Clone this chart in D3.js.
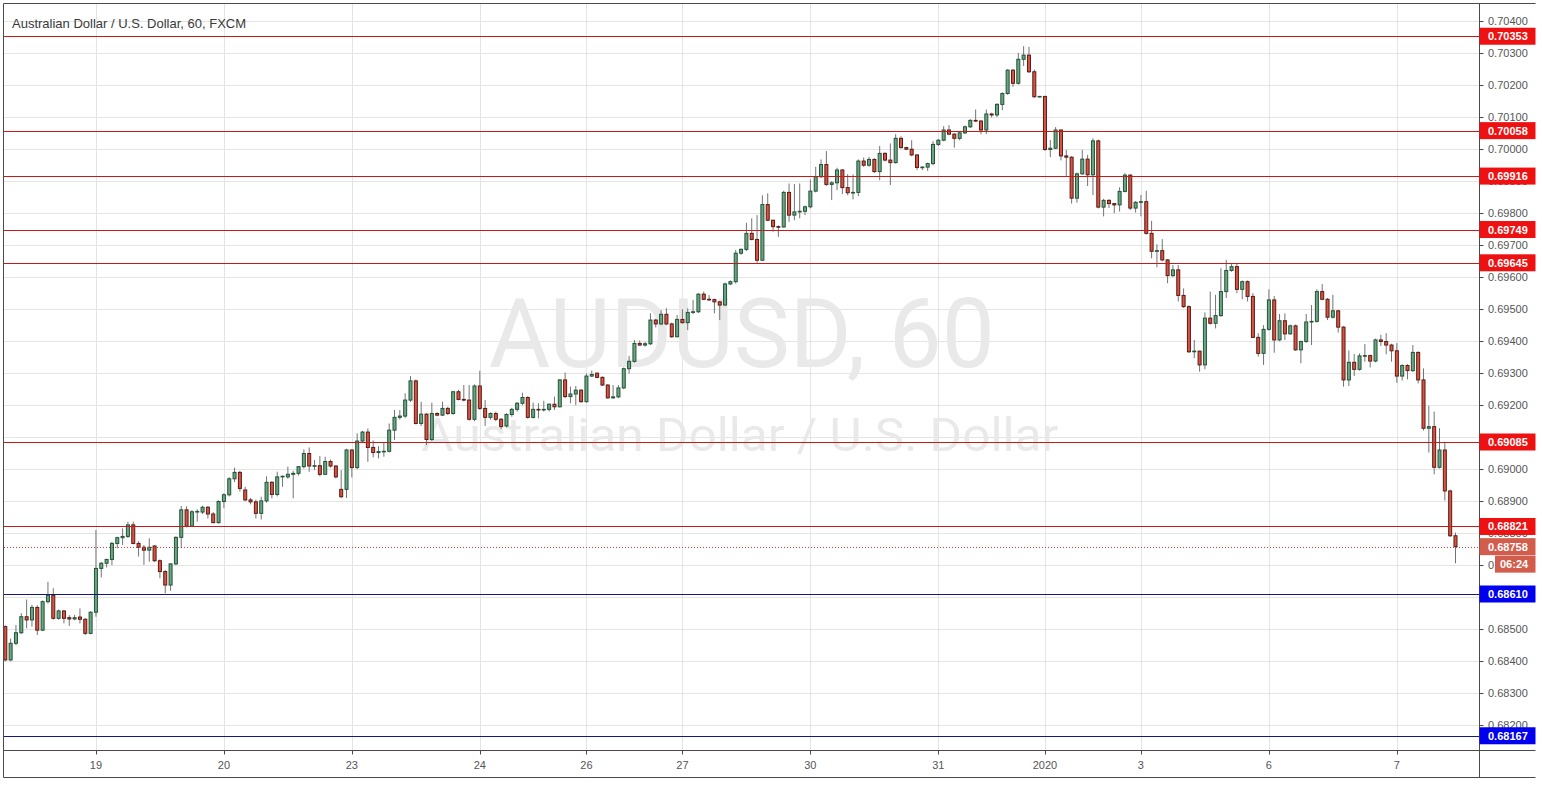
<!DOCTYPE html>
<html><head><meta charset="utf-8">
<script src="https://cdn.jsdelivr.net/npm/d3@7"></script>
<style>html,body{margin:0;padding:0;background:#fff;} svg{display:block;}</style>
</head><body>
<svg id="chart" width="1542" height="785"></svg>
<script>
// ---- DATA (AUD/USD, 60 min, FXCM) ----
const opens = [
.68508,.68404,.68456,.68489,.68539,.68529,.68568,.68497,.68586,.68606,
.68534,.68557,.68536,.68532,.68538,.68531,.68487,.68553,.68690,.68706,
.68718,.68768,.68786,.68790,.68826,.68768,.68756,.68747,.68760,.68714,
.68680,.68638,.68704,.68787,.68873,.68822,.68867,.68866,.68881,.68860,
.68833,.68899,.68920,.68970,.68990,.68935,.68904,.68898,.68862,.68901,
.68959,.68921,.68976,.68976,.68984,.68987,.69008,.69049,.69010,.69011,
.68984,.69024,.69010,.68937,.68937,.69060,.69005,.69088,.69116,.69068,
.69052,.69055,.69056,.69122,.69162,.69166,.69216,.69276,.69143,.69172,
.69093,.69174,.69169,.69190,.69174,.69242,.69218,.69216,.69156,.69260,
.69190,.69162,.69174,.69156,.69135,.69171,.69187,.69206,.69224,.69162,
.69187,.69186,.69187,.69203,.69195,.69279,.69227,.69235,.69247,.69211,
.69291,.69300,.69287,.69263,.69223,.69226,.69254,.69314,.69337,.69393,
.69388,.69392,.69466,.69454,.69484,.69454,.69414,.69468,.69458,.69490,
.69492,.69547,.69531,.69530,.69523,.69513,.69579,.69586,.69675,.69687,
.69737,.69718,.69653,.69827,.69778,.69758,.69757,.69865,.69794,.69804,
.69806,.69820,.69869,.69914,.69952,.69890,.69895,.69935,.69880,.69864,
.69865,.69963,.69950,.69968,.69930,.69987,.69966,.69958,.70034,.70005,
.70000,.69982,.69943,.69944,.69955,.70015,.70028,.70060,.70047,.70034,
.70051,.70070,.70090,.70088,.70060,.70110,.70107,.70140,.70174,.70247,
.70206,.70281,.70294,.70242,.70164,.70165,.69999,.70003,.70060,.69979,
.69975,.69847,.69923,.69969,.69920,.70026,.69819,.69840,.69830,.69826,
.69868,.69919,.69816,.69834,.69836,.69737,.69681,.69683,.69654,.69605,
.69623,.69543,.69508,.69367,.69369,.69326,.69472,.69456,.69480,.69555,
.69621,.69633,.69562,.69586,.69540,.69412,.69362,.69437,.69529,.69404,
.69464,.69423,.69448,.69373,.69399,.69460,.69462,.69555,.69531,.69475,
.69495,.69444,.69279,.69334,.69312,.69354,.69355,.69338,.69404,.69399,
.69388,.69370,.69291,.69324,.69308,.69365,.69279,.69128,.69133,.69006,
.69060,.68932,.68792];
const highs = [
.68512,.68471,.68513,.68550,.68593,.68576,.68575,.68590,.68648,.68628,
.68562,.68560,.68544,.68545,.68565,.68535,.68556,.68810,.68710,.68720,
.68773,.68789,.68815,.68836,.68836,.68775,.68763,.68784,.68763,.68718,
.68685,.68706,.68790,.68885,.68884,.68872,.68875,.68886,.68885,.68866,
.68903,.68925,.68975,.69005,.68995,.68945,.68910,.68905,.68914,.68978,
.68963,.68992,.68980,.69008,.68995,.69010,.69062,.69068,.69029,.69041,
.69039,.69030,.69012,.68997,.69064,.69062,.69112,.69120,.69127,.69090,
.69072,.69083,.69143,.69185,.69185,.69237,.69291,.69280,.69211,.69175,
.69208,.69178,.69211,.69195,.69245,.69248,.69263,.69263,.69265,.69308,
.69216,.69178,.69180,.69160,.69175,.69192,.69210,.69239,.69228,.69208,
.69206,.69214,.69206,.69227,.69282,.69302,.69258,.69260,.69250,.69299,
.69308,.69302,.69290,.69266,.69263,.69263,.69318,.69354,.69404,.69402,
.69398,.69487,.69470,.69497,.69503,.69458,.69482,.69500,.69503,.69529,
.69550,.69555,.69544,.69533,.69526,.69583,.69590,.69685,.69690,.69770,
.69784,.69794,.69856,.69862,.69780,.69762,.69870,.69893,.69891,.69893,
.69824,.69905,.69945,.69968,.69994,.69900,.69942,.69938,.69922,.69921,
.69968,.69974,.69976,.69972,.70010,.69990,.70018,.70047,.70040,.70008,
.70028,.69985,.69947,.69958,.70025,.70032,.70072,.70075,.70050,.70055,
.70074,.70094,.70124,.70091,.70124,.70114,.70144,.70178,.70250,.70250,
.70301,.70322,.70320,.70249,.70166,.70166,.70029,.70069,.70062,.69998,
.69978,.69927,.69998,.69982,.70034,.70030,.69845,.69844,.69832,.69881,
.69925,.69922,.69838,.69857,.69870,.69776,.69703,.69719,.69657,.69638,
.69638,.69565,.69512,.69404,.69370,.69490,.69555,.69545,.69628,.69654,
.69644,.69644,.69590,.69590,.69550,.69425,.69450,.69562,.69541,.69485,
.69487,.69452,.69452,.69402,.69485,.69513,.69562,.69579,.69535,.69545,
.69498,.69447,.69371,.69360,.69362,.69391,.69358,.69408,.69420,.69425,
.69392,.69394,.69328,.69328,.69388,.69368,.69315,.69198,.69180,.69128,
.69086,.68936,.68802];
const lows = [
.68400,.68400,.68450,.68485,.68503,.68508,.68482,.68494,.68580,.68530,
.68530,.68518,.68510,.68528,.68518,.68482,.68484,.68539,.68662,.68693,
.68700,.68753,.68763,.68785,.68765,.68727,.68701,.68711,.68710,.68659,
.68612,.68620,.68700,.68753,.68818,.68820,.68836,.68860,.68846,.68831,
.68830,.68878,.68915,.68960,.68930,.68900,.68890,.68846,.68843,.68895,
.68909,.68915,.68945,.68970,.68909,.68980,.69002,.68992,.68997,.68978,
.68982,.69005,.68971,.68910,.68910,.68974,.69000,.69085,.69023,.69037,
.69034,.69039,.69052,.69091,.69155,.69160,.69210,.69140,.69135,.69075,
.69088,.69165,.69166,.69169,.69170,.69215,.69212,.69152,.69150,.69185,
.69135,.69155,.69150,.69125,.69130,.69164,.69180,.69200,.69158,.69158,
.69159,.69180,.69180,.69185,.69193,.69222,.69206,.69200,.69208,.69208,
.69288,.69284,.69260,.69220,.69220,.69222,.69250,.69299,.69333,.69385,
.69383,.69388,.69443,.69450,.69450,.69410,.69412,.69455,.69435,.69485,
.69488,.69528,.69525,.69487,.69466,.69510,.69575,.69580,.69670,.69682,
.69715,.69645,.69651,.69775,.69742,.69726,.69755,.69773,.69778,.69784,
.69794,.69815,.69865,.69910,.69885,.69841,.69872,.69860,.69856,.69843,
.69853,.69945,.69945,.69926,.69903,.69962,.69888,.69955,.70002,.69997,
.69978,.69935,.69935,.69932,.69950,.70010,.70025,.70044,.70005,.70028,
.70047,.70066,.70085,.70047,.70047,.70099,.70100,.70122,.70170,.70195,
.70202,.70260,.70238,.70160,.70162,.69995,.69975,.70000,.69965,.69915,
.69830,.69833,.69920,.69885,.69857,.69815,.69790,.69816,.69800,.69805,
.69865,.69810,.69802,.69790,.69733,.69659,.69631,.69650,.69581,.69600,
.69524,.69504,.69363,.69347,.69305,.69312,.69452,.69440,.69476,.69535,
.69617,.69550,.69531,.69524,.69410,.69352,.69326,.69433,.69364,.69400,
.69404,.69420,.69370,.69331,.69395,.69388,.69458,.69528,.69466,.69471,
.69427,.69258,.69260,.69291,.69308,.69336,.69318,.69334,.69385,.69359,
.69336,.69270,.69277,.69281,.69304,.69268,.69121,.69052,.68984,.69002,
.68902,.68788,.68706];
const closes = [
.68404,.68456,.68489,.68539,.68529,.68568,.68497,.68586,.68606,.68534,
.68557,.68534,.68532,.68536,.68531,.68487,.68553,.68690,.68706,.68718,
.68768,.68786,.68790,.68826,.68768,.68756,.68747,.68756,.68714,.68680,
.68638,.68704,.68787,.68873,.68822,.68867,.68868,.68881,.68860,.68833,
.68899,.68920,.68970,.68990,.68940,.68904,.68898,.68862,.68901,.68959,
.68921,.68976,.68978,.68984,.68987,.69008,.69049,.69010,.69011,.68984,
.69024,.69010,.68976,.68914,.69060,.69005,.69088,.69116,.69068,.69052,
.69055,.69056,.69122,.69162,.69166,.69216,.69276,.69143,.69172,.69093,
.69174,.69169,.69190,.69174,.69242,.69218,.69216,.69156,.69260,.69190,
.69162,.69174,.69156,.69133,.69171,.69187,.69206,.69224,.69162,.69187,
.69186,.69187,.69203,.69195,.69279,.69227,.69235,.69247,.69211,.69291,
.69296,.69287,.69263,.69223,.69226,.69254,.69314,.69337,.69393,.69388,
.69392,.69466,.69454,.69484,.69454,.69414,.69468,.69458,.69490,.69492,
.69547,.69531,.69530,.69523,.69513,.69579,.69586,.69675,.69687,.69737,
.69718,.69653,.69827,.69778,.69758,.69757,.69865,.69794,.69804,.69806,
.69820,.69869,.69914,.69952,.69890,.69895,.69935,.69880,.69864,.69865,
.69963,.69950,.69968,.69930,.69987,.69966,.69958,.70034,.70005,.70000,
.69982,.69943,.69944,.69955,.70015,.70028,.70060,.70047,.70034,.70051,
.70070,.70090,.70088,.70060,.70110,.70107,.70140,.70174,.70247,.70206,
.70281,.70294,.70242,.70164,.70165,.69999,.70003,.70060,.69979,.69975,
.69847,.69923,.69969,.69920,.70026,.69819,.69840,.69830,.69826,.69868,
.69919,.69816,.69834,.69836,.69737,.69681,.69683,.69654,.69605,.69623,
.69543,.69508,.69367,.69369,.69326,.69472,.69456,.69480,.69555,.69621,
.69633,.69562,.69586,.69540,.69412,.69362,.69437,.69529,.69404,.69464,
.69423,.69448,.69373,.69399,.69460,.69462,.69555,.69531,.69475,.69495,
.69444,.69279,.69334,.69312,.69354,.69355,.69338,.69404,.69399,.69388,
.69370,.69291,.69324,.69308,.69365,.69279,.69128,.69133,.69006,.69060,
.68932,.68792,.68758];

const dayTickIndex  = [17, 41, 65, 89, 109, 127, 151, 175, 195, 213, 237, 261];
const dayTickLabels = ["19","20","23","24","26","27","30","31","2020","3","6","7"];
const priceTicks = d3.range(682, 705).map(v => v / 1000);
const redLevels  = [0.70353, 0.70058, 0.69916, 0.69749, 0.69645, 0.69085, 0.68821];
const blueLevels = [0.68610, 0.68167];
const lastPrice = 0.68758;
const countdown = "06:24";
const titleText = "Australian Dollar / U.S. Dollar, 60, FXCM";
const symbolText = "AUDUSD, 60";
const descText = "Australian Dollar / U.S. Dollar";

// ---- LAYOUT ----
const W = 1542, H = 785;
const plotL = 4, plotT = 4, plotR = 1479.5, plotB = 750.5, frameR = 1535.5, frameB = 777;
const n = closes.length;
const x = d3.scaleLinear().domain([0, n - 1]).range([5.3, 1455.5]);
const y = d3.scaleLinear().domain([0.682, 0.704]).range([725.2, 21.2]);
const FONT = "'Liberation Sans', Arial, sans-serif";
const fmt = d3.format(".5f");

const svg = d3.select("#chart");
svg.append("rect").attr("width", W).attr("height", H).attr("fill", "#fff");

const defs = svg.append("defs");
defs.append("clipPath").attr("id", "plotClip").append("rect")
  .attr("x", plotL).attr("y", plotT).attr("width", plotR - plotL).attr("height", plotB - plotT);

const plot = svg.append("g").attr("clip-path", "url(#plotClip)");

// grid
plot.append("g").selectAll("line").data(priceTicks).join("line")
  .attr("x1", plotL).attr("x2", plotR)
  .attr("y1", d => Math.round(y(d)) + 0.5).attr("y2", d => Math.round(y(d)) + 0.5)
  .attr("stroke", "#e4e4e4").attr("stroke-width", 1);
plot.append("g").selectAll("line").data(dayTickIndex).join("line")
  .attr("x1", d => Math.round(x(d)) + 0.5).attr("x2", d => Math.round(x(d)) + 0.5)
  .attr("y1", plotT).attr("y2", plotB)
  .attr("stroke", "#e4e4e4").attr("stroke-width", 1);

// watermark
const cxPlot = (plotL + plotR) / 2;
plot.append("text").text(symbolText)
  .attr("x", cxPlot).attr("y", 367).attr("text-anchor", "middle")
  .attr("font-family", "Roboto, sans-serif").attr("font-size", 97)
  .attr("textLength", 506).attr("lengthAdjust", "spacingAndGlyphs")
  .attr("fill", "#e9e9e9");
plot.append("text").text(descText)
  .attr("x", cxPlot - 2).attr("y", 451).attr("text-anchor", "middle")
  .attr("font-family", "Roboto, sans-serif").attr("font-size", 47)
  .attr("textLength", 637).attr("lengthAdjust", "spacingAndGlyphs")
  .attr("fill", "#e9e9e9");

// candles
const idx = d3.range(n);
const up = i => closes[i] >= opens[i];
const candles = plot.append("g");
candles.selectAll("line").data(idx).join("line")
  .attr("x1", i => x(i)).attr("x2", i => x(i))
  .attr("y1", i => y(highs[i])).attr("y2", i => y(lows[i]))
  .attr("stroke", "#737375").attr("stroke-width", 1);
candles.selectAll("rect").data(idx).join("rect")
  .attr("x", i => x(i) - 1.5).attr("width", 3)
  .attr("y", i => y(Math.max(opens[i], closes[i])))
  .attr("height", i => Math.max(0.6, Math.abs(y(opens[i]) - y(closes[i]))))
  .attr("fill", i => up(i) ? "#6ba583" : "#d75442")
  .attr("stroke", i => up(i) ? "#225437" : "#5b1a13")
  .attr("stroke-width", 1);

// level lines
plot.append("g").selectAll("line").data(redLevels).join("line")
  .attr("x1", plotL).attr("x2", plotR)
  .attr("y1", d => Math.round(y(d)) + 0.5).attr("y2", d => Math.round(y(d)) + 0.5)
  .attr("stroke", "#c41a1a").attr("stroke-width", 1);
plot.append("g").selectAll("line").data(blueLevels).join("line")
  .attr("x1", plotL).attr("x2", plotR)
  .attr("y1", d => Math.round(y(d)) + 0.5).attr("y2", d => Math.round(y(d)) + 0.5)
  .attr("stroke", "#16168a").attr("stroke-width", 1);
plot.append("line")
  .attr("x1", plotL).attr("x2", plotR)
  .attr("y1", Math.round(y(lastPrice)) + 0.5).attr("y2", Math.round(y(lastPrice)) + 0.5)
  .attr("stroke", "#b04a3c").attr("stroke-width", 1).attr("stroke-dasharray", "1,2");

// frame and axes
const ax = svg.append("g").attr("stroke", "#4a4a4a").attr("stroke-width", 1);
ax.append("line").attr("x1", 3.5).attr("x2", 3.5).attr("y1", 3.5).attr("y2", frameB + 0.5);
ax.append("line").attr("x1", 3.5).attr("x2", frameR).attr("y1", 3.5).attr("y2", 3.5);
ax.append("line").attr("x1", 3.5).attr("x2", frameR).attr("y1", frameB + 0.5).attr("y2", frameB + 0.5);
ax.append("line").attr("x1", plotR).attr("x2", plotR).attr("y1", 3.5).attr("y2", frameB + 0.5);
ax.append("line").attr("x1", 3.5).attr("x2", frameR).attr("y1", plotB).attr("y2", plotB);

// price axis ticks + labels (labels fully hidden under a level box are not drawn)
const boxLevels = redLevels.concat(blueLevels);
const visibleTicks = priceTicks.filter(t => !boxLevels.some(l => Math.abs(y(t) - y(l)) < 5));
const yAxis = svg.append("g");
yAxis.selectAll("line").data(priceTicks).join("line")
  .attr("x1", plotR).attr("x2", plotR + 4)
  .attr("y1", d => Math.round(y(d)) + 0.5).attr("y2", d => Math.round(y(d)) + 0.5)
  .attr("stroke", "#4a4a4a");
yAxis.selectAll("text").data(visibleTicks).join("text")
  .attr("x", 1488).attr("y", d => y(d) + 4)
  .attr("font-family", FONT).attr("font-size", 11).attr("fill", "#555")
  .text(d => fmt(d));

// time axis
const xAxis = svg.append("g");
xAxis.selectAll("line").data(dayTickIndex).join("line")
  .attr("x1", d => Math.round(x(d)) + 0.5).attr("x2", d => Math.round(x(d)) + 0.5)
  .attr("y1", plotB).attr("y2", plotB + 4).attr("stroke", "#4a4a4a");
xAxis.selectAll("text").data(dayTickIndex).join("text")
  .attr("x", d => x(d)).attr("y", 769).attr("text-anchor", "middle")
  .attr("font-family", FONT).attr("font-size", 11).attr("fill", "#555")
  .text((d, i) => dayTickLabels[i]);

// level labels
function priceBox(val, color, label) {
  const g = svg.append("g");
  const yc = y(val);
  g.append("rect").attr("x", plotR).attr("y", yc - 8.5).attr("width", frameR - plotR).attr("height", 17)
    .attr("fill", color);
  g.append("text").attr("x", 1488).attr("y", yc + 4)
    .attr("font-family", FONT).attr("font-size", 11).attr("font-weight", "bold").attr("fill", "#fff")
    .text(label);
}
redLevels.forEach(v => priceBox(v, "#ee1111", fmt(v)));
blueLevels.forEach(v => priceBox(v, "#0000ee", fmt(v)));
priceBox(lastPrice, "#d35d4c", fmt(lastPrice));
// countdown
const yc = y(lastPrice) + 17;
svg.append("rect").attr("x", 1495).attr("y", yc - 8).attr("width", frameR - 1495).attr("height", 17).attr("fill", "#d35d4c");
svg.append("text").attr("x", 1500).attr("y", yc + 4.5)
  .attr("font-family", FONT).attr("font-size", 11).attr("font-weight", "bold").attr("fill", "#fff")
  .text(countdown);

// title
svg.append("text").attr("x", 12).attr("y", 28)
  .attr("font-family", FONT).attr("font-size", 13).attr("fill", "#3a3a3a")
  .text(titleText);
</script>
</body></html>
